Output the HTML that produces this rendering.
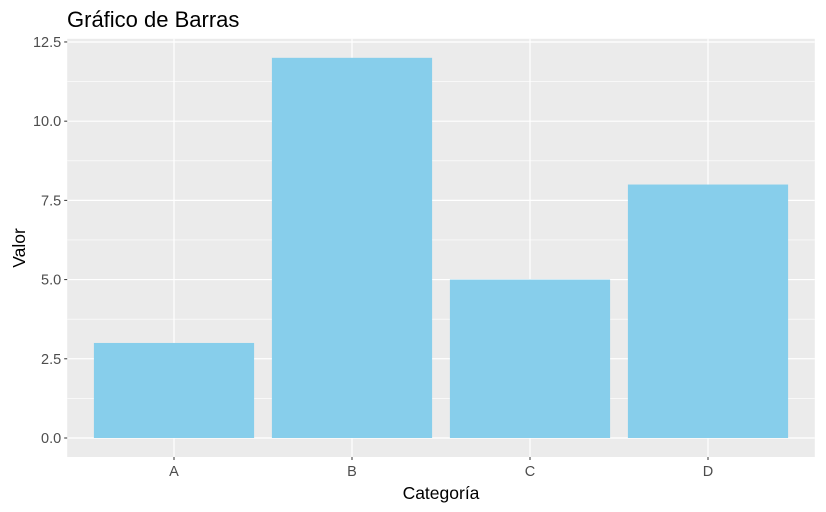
<!DOCTYPE html>
<html><head><meta charset="utf-8">
<style>
body{margin:0;background:#fff;}
svg{display:block;font-family:"Liberation Sans",Arial,sans-serif;}
</style></head>
<body>
<svg id="chart" width="826" height="512">
  <text x="67" y="27" font-size="22" fill="#000">Gráfico de Barras</text>
  <rect x="67.2" y="38.8" width="747.6" height="418.2" fill="#ebebeb"/>
  <g id="grid"></g>
  <g id="bars"></g>
  <g id="axes"></g>
  <text x="441" y="499" font-size="17.5" text-anchor="middle" fill="#000">Categoría</text>
  <text transform="translate(25,248) rotate(-90)" font-size="17.5" text-anchor="middle" fill="#000">Valor</text>
</svg>
<script>
const categories = ["A","B","C","D"];
const values = [3, 12, 5, 8];
const yTicks = [0, 2.5, 5, 7.5, 10, 12.5];
const yTickLabels = ["0.0","2.5","5.0","7.5","10.0","12.5"];

const NS = "http://www.w3.org/2000/svg";
const pLeft = 67.2, pRight = 814.8, pTop = 38.8, pBottom = 457;
const yMin = -0.6, yMax = 12.6;
const step = (pRight - pLeft) / (categories.length + 0.2);
function xPos(i){ return pLeft + step * (0.6 + i); }
function yPos(v){ return pBottom - (v - yMin) / (yMax - yMin) * (pBottom - pTop); }

function mk(tag, attrs, parent){
  const el = document.createElementNS(NS, tag);
  for (const k in attrs) el.setAttribute(k, attrs[k]);
  parent.appendChild(el);
  return el;
}
const grid = document.getElementById("grid");
const bars = document.getElementById("bars");
const axes = document.getElementById("axes");

for (let i = 0; i < yTicks.length - 1; i++) {
  const v = (yTicks[i] + yTicks[i+1]) / 2;
  const l = mk("line", {x1:pLeft, x2:pRight, y1:yPos(v), y2:yPos(v), stroke:"#fff", "stroke-width":0.6}, grid);
  
  
}
yTicks.forEach((v, i) => {
  const y = yPos(v);
  const l = mk("line", {x1:pLeft, x2:pRight, y1:y, y2:y, stroke:"#fff", "stroke-width":1.2}, grid);
  
  
  const t = mk("line", {x1:pLeft-3, x2:pLeft, y1:y, y2:y, stroke:"#333", "stroke-width":1}, axes);
  
  
  const tx = mk("text", {x:pLeft-6, y:y+5, "font-size":14.5, fill:"#4d4d4d", "text-anchor":"end"}, axes);
  tx.textContent = yTickLabels[i];
  
  
});
categories.forEach((c, i) => {
  const x = xPos(i);
  const l = mk("line", {x1:x, x2:x, y1:pTop, y2:pBottom, stroke:"#fff", "stroke-width":1.2}, grid);
  
  
  const w = step * 0.9;
  const b = mk("rect", {x:x - w/2, y:yPos(values[i]), width:w, height:yPos(0) - yPos(values[i]), fill:"#87ceeb"}, bars);
  
  
  const t = mk("line", {x1:x, x2:x, y1:pBottom, y2:pBottom+3, stroke:"#333", "stroke-width":1}, axes);
  
  
  const tx = mk("text", {x:x, y:pBottom+19, "font-size":14.5, fill:"#4d4d4d", "text-anchor":"middle"}, axes);
  tx.textContent = c;
  
  
});
</script>
</body></html>
